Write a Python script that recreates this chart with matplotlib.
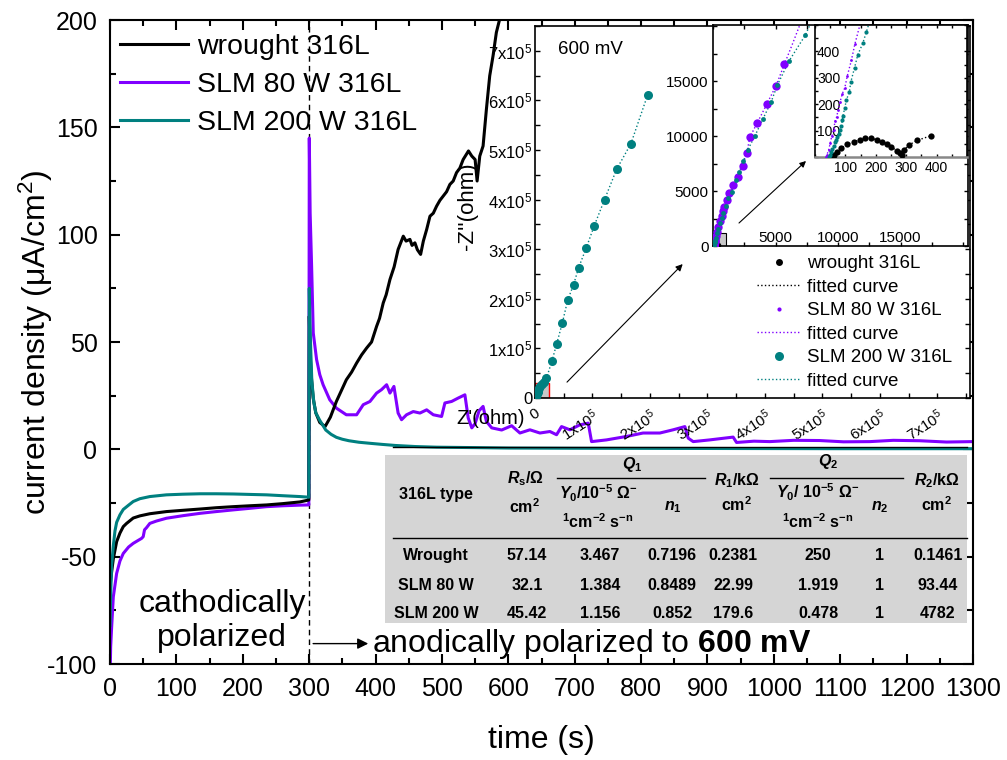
import matplotlib
matplotlib.use('Agg')
import matplotlib.pyplot as plt
from matplotlib.patches import Rectangle
from matplotlib.ticker import MultipleLocator

plt.rcParams['font.family'] = ['Liberation Sans', 'DejaVu Sans']
plt.rcParams['mathtext.fontset'] = 'custom'
plt.rcParams['mathtext.rm'] = 'Liberation Sans'
plt.rcParams['mathtext.it'] = 'Liberation Sans:italic'
plt.rcParams['mathtext.bf'] = 'Liberation Sans:bold'
plt.rcParams['mathtext.bfit'] = 'Liberation Sans:italic:bold'
plt.rcParams['mathtext.sf'] = 'Liberation Sans'
plt.rcParams['axes.unicode_minus'] = False

PURPLE = '#8000ff'
TEAL = '#008080'
OHM = '\u03a9'

# ---------------- main chart data: time (s) / current density (uA/cm2)
wrought_t = [0, 1, 2.5, 5, 7.5, 10, 15, 20, 25, 35,
             45, 60, 85, 110, 136, 160, 186, 210, 236, 260,
             286, 299.5, 300.2, 301.5, 303, 306, 310, 316, 324, 332,
             341, 348, 356, 364, 371.5, 379, 386.6, 394, 401.6, 406,
             411.6, 416, 421.7, 428, 434, 441.8, 446, 451.8, 455, 459.3,
             463, 467.9, 472, 477, 482, 487, 492, 497, 502, 507,
             512, 517, 522, 527, 532, 536, 540, 545, 550, 553,
             557, 562, 567, 572, 577, 582, 587, 595]
wrought_j = [-64, -61, -57, -51, -47, -43, -39, -36, -34.5, -32,
             -31, -30, -29, -28.4, -27.8, -27.2, -26.7, -26.3, -25.9, -25.3,
             -24.5, -23.6, 62, 45, 35, 24, 17, 12.5, 10.6, 15,
             22.3, 27, 32.4, 36, 40.2, 44, 47.2, 50, 57.3, 61,
             68.2, 72, 79.1, 85, 93.1, 99.3, 97, 97.8, 95, 96.2,
             93, 90.8, 97, 102.4, 108.6, 110, 113.3, 116, 118, 120,
             123.4, 125, 128.9, 131, 135, 137, 139, 136.6, 135, 125,
             136.6, 141.3, 158.4, 174, 183.3, 194.2, 200.4, 215]

slm80_t = [0, 0.5, 1, 2.5, 5, 10, 15, 20, 28, 35,
           42, 47.5, 50, 52, 55, 60, 70, 85, 110, 136,
           160, 186, 210, 236, 260, 286, 299.5, 300.2, 301.5, 303.7,
           306.2, 311.2, 316, 321, 331, 341, 356, 371.5, 381.5, 391.6,
           401.6, 409, 416.7, 421.7, 427.7, 434, 439.2, 446.7, 456.8, 466.9,
           477, 487, 499.5, 504.5, 514.6, 524.6, 534.6, 539.6, 545, 550,
           556, 562, 567, 575, 590, 605, 617.5, 632.5, 647.6, 662.7,
           672.7, 680.2, 692.8, 707.8, 720.4, 725.4, 748, 778, 803, 828.3,
           848.3, 866, 871, 878.5, 903.6, 938.7, 943.8, 970, 994, 1030,
           1069, 1105, 1145, 1180, 1220, 1260, 1300]
slm80_j = [-105, -100, -92, -82.7, -68.7, -57.8, -52, -48.5, -45.5, -43.8,
           -42.5, -41.5, -40.7, -37.5, -36.5, -34.5, -33.4, -32.1, -30.9, -29.8,
           -29, -28.2, -27.5, -26.7, -26.3, -26, -25.9, 145, 110, 85.3,
           54.2, 41.8, 34.8, 30.1, 23.1, 19.2, 16.1, 16.1, 20.8, 22.3,
           26.2, 27.8, 30.1, 26.2, 29.3, 16.9, 13.8, 16.1, 17.6, 16.9,
           18.4, 16.1, 15.3, 21.6, 22.3, 23.9, 25.4, 14.6, 10, 12,
           18, 20, 13, 10, 9, 11, 7.6, 9.1, 7.6, 8.3,
           6.8, 10.6, 9.1, 11.4, 12.2, 3.6, 4.4, 6.0, 7.6, 7.6,
           9.1, 10.6, 5.2, 3.6, 4.4, 5.7, 3.2, 3.8, 3.6, 4.2,
           4.1, 3.5, 3.6, 4.2, 4.0, 3.4, 3.6]

slm200_t = [0, 0.5, 1.3, 2.5, 5, 7.5, 10, 15, 20, 28,
            35, 45, 60, 85, 110, 136, 160, 186, 210, 236,
            260, 286, 299.5, 300.2, 301, 302, 304, 307, 310, 316,
            325, 333, 341, 350, 360, 375, 392, 410, 430, 460,
            492, 550, 600, 700, 800, 900, 1000, 1100, 1200, 1300]
slm200_j = [-82, -75, -65, -54, -45, -38, -34, -30.5, -28, -26,
            -24.3, -23, -22, -21.2, -20.9, -20.7, -20.7, -20.8, -21, -21.2,
            -21.6, -22, -22.3, 75, 62, 50, 32, 22, 17, 13.5,
            9, 7, 5.6, 4.7, 4, 3.3, 2.8, 2.3, 1.8, 1.3,
            1, 0.8, 0.6, 0.5, 0.45, 0.4, 0.35, 0.3, 0.3, 0.3]

# ---------------- Nyquist data (ohm)
wr_re = [55, 58, 63, 72, 85, 106, 128, 148, 166, 185, 204, 220, 237, 251, 269, 280, 286, 293, 310, 336, 380]
wr_im = [0, 3, 8, 18, 33, 48, 58, 65, 71, 71, 65, 58, 48, 39, 23, 14, 8, 27, 46, 63, 80]

slm80_re = [36, 39, 45, 50, 55, 61, 66, 71, 76, 82,
            90, 98, 106, 120, 131, 150, 190, 250, 330, 430,
            550, 680, 780, 880, 1093, 1307, 1627, 2027, 2373, 2693,
            2960, 3547, 4293, 5040, 5707]
slm80_im = [0, 8, 27, 52, 78, 103, 135, 151, 177, 207,
            240, 262, 306, 368, 427, 510, 700, 950, 1300, 1750,
            2250, 2750, 3150, 3570, 4180, 4790, 5545, 6300, 7300, 8427,
            9936, 11209, 12882, 14573, 16518]
slm80_fit_ext_re = [6400, 7250]
slm80_fit_ext_im = [18500, 21000]

slm200_re = [45, 50, 53, 57, 61, 66, 70, 74, 78, 82, 87, 90, 92, 98, 103, 113, 118, 130, 141, 157, 169,
             230, 293, 400, 560, 700, 827, 1000, 1227, 1493, 1840, 2107, 2427, 2773, 3360, 3973, 4640,
             5147, 6080, 7387,
             9500, 12500, 15700, 20000, 29600, 37700, 47500, 57000, 67000, 76000, 89000, 103000,
             121000, 142000, 167000, 196000]
slm200_im = [0, 8, 18, 30, 42, 55, 66, 77, 88, 103, 118, 139, 156, 186, 215, 247, 285, 338, 388, 430, 474,
             700, 1150, 1550, 2060, 2550, 2970, 3600, 4336, 4936, 6000, 6755, 7727, 8727, 10027, 11518, 13064,
             14636, 16818, 19180,
             24500, 29000, 33000, 40000, 75000, 109000, 151000, 198000, 228000, 263000, 302000, 347000,
             400000, 461000, 513000, 611000]

# ---------------- table
table_types = ['Wrought', 'SLM 80 W', 'SLM 200 W']
table_Rs = ['57.14', '32.1', '45.42']
table_Y01 = ['3.467', '1.384', '1.156']
table_n1 = ['0.7196', '0.8489', '0.852']
table_R1 = ['0.2381', '22.99', '179.6']
table_Y02 = ['250', '1.919', '0.478']
table_n2 = ['1', '1', '1']
table_R2 = ['0.1461', '93.44', '4782']

main_xticks = list(range(0, 1301, 100))
main_yticks = [-100, -50, 0, 50, 100, 150, 200]
in1_ticks = [0, 1e5, 2e5, 3e5, 4e5, 5e5, 6e5, 7e5]
in1_labels = ['0'] + ['%dx10$^5$' % k for k in range(1, 8)]
in2_yticks = [0, 5000, 10000, 15000]
in2_ylabels = ['0', '5000', '10000', '15000']
in2_xticks = [0, 5000, 10000, 15000, 20000]
in2_xlabels = ['', '5000', '10000', '15000', '']
in3_ticks = [0, 100, 200, 300, 400]
in3_labels = ['', '100', '200', '300', '400']

W, H = 1007, 760
fig = plt.figure(figsize=(W / 100, H / 100), dpi=100)


def px_axes(l, t, r, b):
    return fig.add_axes([l / W, 1 - b / H, (r - l) / W, (b - t) / H])


# ================= main axes
ax = px_axes(110, 20, 973, 664)
ax.axvline(300, color='black', lw=1.0, ls=(0, (4, 3)), zorder=1.5)
l80, = ax.plot(slm80_t, slm80_j, color=PURPLE, lw=2.2, label='SLM 80 W 316L', zorder=2)
lw_, = ax.plot(wrought_t, wrought_j, color='black', lw=2.2, label='wrought 316L', zorder=2.1)
l200, = ax.plot(slm200_t, slm200_j, color=TEAL, lw=2.2, label='SLM 200 W 316L', zorder=2.2)
ax.set_xlim(0, 1300)
ax.set_ylim(-100, 200)
ax.set_xticks(main_xticks)
ax.set_yticks(main_yticks)
ax.xaxis.set_minor_locator(MultipleLocator(50))
ax.yaxis.set_minor_locator(MultipleLocator(25))
ax.tick_params(which='both', direction='in', top=True, right=True, width=1.5)
ax.tick_params(which='major', length=7, labelsize=18, pad=9)
ax.tick_params(which='minor', length=4)
for s in ax.spines.values():
    s.set_linewidth(1.5)
ax.set_xlabel('time (s)', fontsize=23)
ax.set_ylabel('current density (\u03bcA/cm$^2$)', fontsize=23)
ax.xaxis.set_label_coords(0.5, -0.095)
ax.yaxis.set_label_coords(-0.064, 0.5)
ax.legend(handles=[lw_, l80, l200], loc='upper left', bbox_to_anchor=(10 / 863, 0.978),
          frameon=False, fontsize=20.5, handlelength=2.4, handletextpad=0.3,
          labelspacing=0.42, borderpad=0, borderaxespad=0)
ax.text(169, -80, 'cathodically\npolarized', ha='center', va='center', fontsize=23)
ax.annotate('', xy=(389, -90.5), xytext=(306, -90.5),
            arrowprops=dict(arrowstyle='-|>', color='black', lw=1.0, mutation_scale=16,
                            shrinkA=0, shrinkB=0))
ax.text(395, -90.8, r'anodically polarized to $\mathbf{600\ mV}$', ha='left', va='center',
        fontsize=23)

# ================= table
axt = px_axes(385, 455, 967, 623)
axt.set_facecolor('#d5d5d5')
axt.set_xlim(385, 967)
axt.set_ylim(623, 455)
axt.set_xticks([])
axt.set_yticks([])
for s in axt.spines.values():
    s.set_visible(False)
axt.plot([393, 967], [447, 447], color='black', lw=1.0, clip_on=False)
axt.plot([393, 967], [538, 538], color='black', lw=1.0, clip_on=False)
axt.plot([557, 705], [478, 478], color='black', lw=1.0)
axt.plot([770, 903], [478, 478], color='black', lw=1.0)
tk = dict(ha='center', va='center', fontsize=11.5, fontweight='bold')
axt.text(436, 494, '316L type', **tk)
axt.text(525, 479, r'$\mathbfit{R}_\mathbf{s}$/' + OHM, **tk)
axt.text(525, 507, r'cm$^\mathbf{2}$', **tk)
axt.text(632, 464, r'$\mathbfit{Q}_\mathbf{1}$', **tk)
axt.text(598, 493, r'$\mathbfit{Y}_\mathbf{0}$/10$^\mathbf{-5}$ ' + OHM + r'$^\mathbf{-}$', **tk)
axt.text(598, 522, r'$^\mathbf{1}$cm$^\mathbf{-2}$ s$^\mathbf{-n}$', **tk)
axt.text(673, 507, r'$\mathbfit{n}_\mathbf{1}$', **tk)
axt.text(737, 481, r'$\mathbfit{R}_\mathbf{1}$/k' + OHM, **tk)
axt.text(737, 505, r'cm$^\mathbf{2}$', **tk)
axt.text(828, 461, r'$\mathbfit{Q}_\mathbf{2}$', **tk)
axt.text(818, 492, r'$\mathbfit{Y}_\mathbf{0}$/ 10$^\mathbf{-5}$ ' + OHM + r'$^\mathbf{-}$', **tk)
axt.text(818, 522, r'$^\mathbf{1}$cm$^\mathbf{-2}$ s$^\mathbf{-n}$', **tk)
axt.text(880, 507, r'$\mathbfit{n}_\mathbf{2}$', **tk)
axt.text(937, 481, r'$\mathbfit{R}_\mathbf{2}$/k' + OHM, **tk)
axt.text(937, 505, r'cm$^\mathbf{2}$', **tk)
col_x = [436, 527, 600, 672, 733, 818, 880, 938]
row_y = [555, 585, 613]
cols = [table_types, table_Rs, table_Y01, table_n1, table_R1, table_Y02, table_n2, table_R2]
for cx, col in zip(col_x, cols):
    for ry, val in zip(row_y, col):
        axt.text(cx, ry, val, **tk)


# ================= Nyquist insets
def nyquist(a, ms_w, ms_80, ms_200):
    fw, = a.plot(wr_re, wr_im, ls=':', color='black', lw=1.0, zorder=2)
    f80, = a.plot(slm80_re + slm80_fit_ext_re, slm80_im + slm80_fit_ext_im, ls=':', color=PURPLE,
                  lw=1.0, zorder=2)
    f200, = a.plot(slm200_re, slm200_im, ls=':', color=TEAL, lw=1.0, zorder=2)
    pw, = a.plot(wr_re, wr_im, 'o', color='black', ms=ms_w, mec='none', zorder=3)
    p80, = a.plot(slm80_re, slm80_im, 'o', color=PURPLE, ms=ms_80, mec='none', zorder=3)
    p200, = a.plot(slm200_re, slm200_im, 'o', color=TEAL, ms=ms_200, mec='none', zorder=3)
    for s in a.spines.values():
        s.set_linewidth(1.2)
    return pw, fw, p80, f80, p200, f200


ax1 = px_axes(535, 26, 970, 398)
ax1.add_patch(Rectangle((0, 0), 0.243e5, 0.3e5, facecolor='#c8c8c8', edgecolor='red', lw=1.0,
                        zorder=1.5))
h1 = nyquist(ax1, 5, 3, 6.5)
ax1.set_xlim(0, 7.57e5)
ax1.set_ylim(0, 7.5e5)
ax1.set_yticks(in1_ticks, in1_labels, fontsize=12)
ax1.set_xticks(in1_ticks, in1_labels, fontsize=11, rotation=33, ha='right', va='top',
               rotation_mode='anchor')
ax1.xaxis.set_minor_locator(MultipleLocator(0.5e5))
ax1.yaxis.set_minor_locator(MultipleLocator(0.5e5))
ax1.tick_params(which='both', direction='in', right=True, length=3.5, width=1)
ax1.tick_params(axis='y', pad=2)
ax1.tick_params(axis='x', pad=6)
ax1.set_ylabel("-Z''(ohm)", fontsize=16)
ax1.yaxis.set_label_coords(-0.131, 0.515)
ax1.set_xlabel("Z'(ohm)", fontsize=14.5)
ax1.xaxis.set_label_coords(-0.103, -0.03)
ax1.annotate('', xy=(2.57e5, 2.70e5), xytext=(0.557e5, 0.32e5),
             arrowprops=dict(arrowstyle='-|>', color='black', lw=0.8, mutation_scale=10,
                             shrinkA=0, shrinkB=0))
fig.text(590 / W, 1 - 49 / H, '600 mV', ha='center', va='center', fontsize=13.5)
ax1.legend(list(h1), ['wrought 316L', 'fitted curve', 'SLM 80 W 316L', 'fitted curve',
                      'SLM 200 W 316L', 'fitted curve'],
           loc='upper left', bbox_to_anchor=(757 / W, 1 - 255 / H), bbox_transform=fig.transFigure,
           frameon=False, fontsize=13.5, handlelength=2.3, handletextpad=0.35, labelspacing=0.34,
           borderpad=0, borderaxespad=0, numpoints=1)

ax2 = px_axes(713, 25, 968, 246)
ax2.add_patch(Rectangle((0, 0), 1040, 1150, facecolor='#c8c8c8', edgecolor='black', lw=0.8,
                        zorder=1.5))
nyquist(ax2, 4, 6, 3.5)
ax2.set_xlim(0, 20400)
ax2.set_ylim(0, 20100)
ax2.set_yticks(in2_yticks, in2_ylabels, fontsize=11)
ax2.set_xticks(in2_xticks, in2_xlabels, fontsize=11, va='bottom')
ax2.xaxis.set_minor_locator(MultipleLocator(2500))
ax2.yaxis.set_minor_locator(MultipleLocator(2500))
ax2.tick_params(which='both', direction='in', right=True, top=True, length=3, width=1)
ax2.tick_params(axis='y', pad=3)
ax2.tick_params(axis='x', pad=-0.5)
ax2.annotate('', xy=(7440, 7730), xytext=(2080, 2090),
             arrowprops=dict(arrowstyle='-|>', color='black', lw=0.8, mutation_scale=9,
                             shrinkA=0, shrinkB=0))

ax3 = px_axes(815, 25, 967, 157)
nyquist(ax3, 4.5, 2, 3)
ax3.set_xlim(0, 500)
ax3.set_ylim(0, 500)
ax3.set_yticks(in3_ticks, in3_labels, fontsize=10, ha='left')
ax3.set_xticks(in3_ticks, in3_labels, fontsize=10)
ax3.xaxis.set_minor_locator(MultipleLocator(50))
ax3.yaxis.set_minor_locator(MultipleLocator(50))
ax3.tick_params(which='both', direction='in', right=True, top=True, length=2.5, width=1)
ax3.tick_params(axis='y', pad=-1.5)
ax3.tick_params(axis='x', pad=3)
ax3.spines['bottom'].set_color('#888888')
ax3.spines['bottom'].set_linewidth(1.8)

fig.savefig('out.png', dpi=100)
